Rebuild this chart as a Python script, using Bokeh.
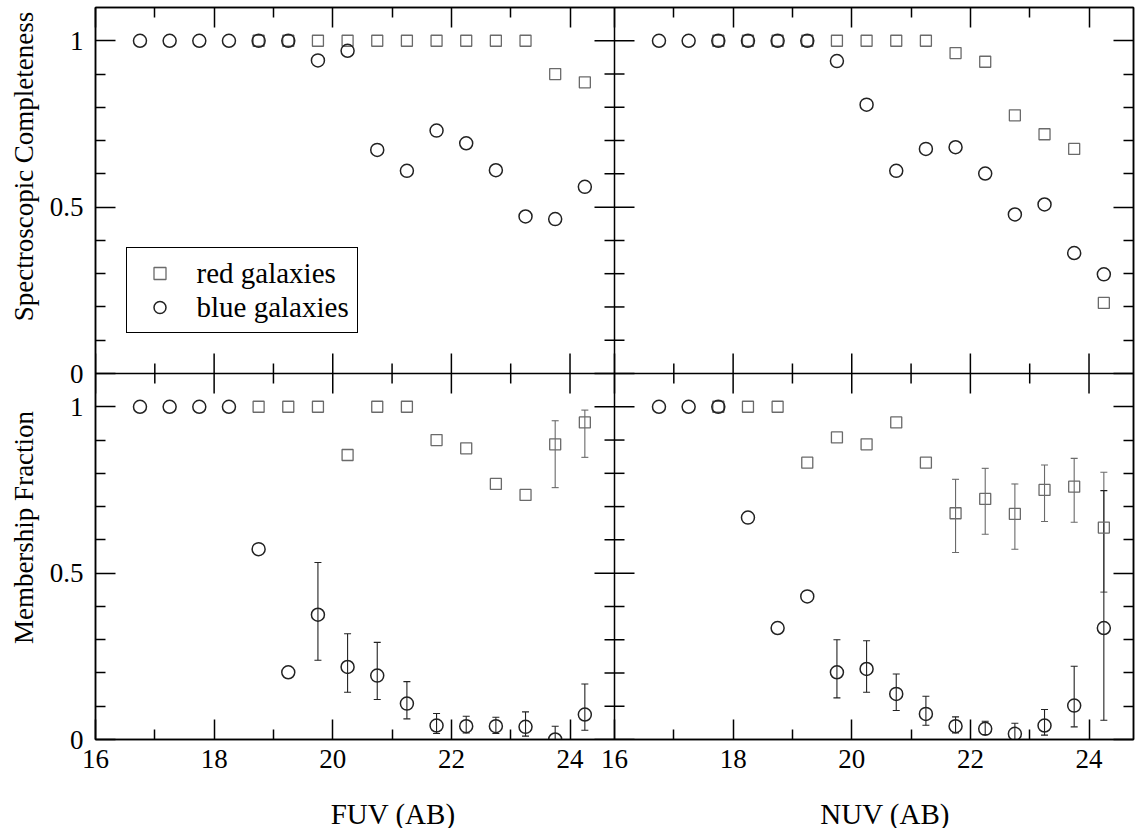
import math
from bokeh.plotting import figure
from bokeh.layouts import row, column
from bokeh.models import (Range1d, LinearAxis, FixedTicker, ColumnDataSource, Whisker, TeeHead,
                          Span, Label, Legend, LegendItem, CustomJSTickFormatter)
from bokeh.embed import file_html
from bokeh.resources import INLINE

# ---------------- data ----------------
mag_bins = [16.75, 17.25, 17.75, 18.25, 18.75, 19.25, 19.75, 20.25,
            20.75, 21.25, 21.75, 22.25, 22.75, 23.25, 23.75, 24.25]

# Spectroscopic completeness, FUV
fuv_comp_red = [None, None, None, None, 1.0, 1.0, 1.0, 1.0,
                1.0, 1.0, 1.0, 1.0, 1.0, 1.0, 0.90, 0.875]
fuv_comp_blue = [1.0, 1.0, 1.0, 1.0, 1.0, 1.0, 0.941, 0.970,
                 0.672, 0.609, 0.730, 0.692, 0.611, 0.472, 0.464, 0.561]

# Spectroscopic completeness, NUV
nuv_comp_red = [None, None, 1.0, 1.0, 1.0, 1.0, 1.0, 1.0,
                1.0, 1.0, 0.963, 0.937, 0.776, 0.719, 0.675, 0.212]
nuv_comp_blue = [1.0, 1.0, 1.0, 1.0, 1.0, 1.0, 0.939, 0.808,
                 0.609, 0.675, 0.680, 0.601, 0.478, 0.508, 0.362, 0.298]

# Membership fraction, FUV
fuv_memb_red = [None, None, None, None, 1.0, 1.0, 1.0, 0.855,
                1.0, 1.0, 0.90, 0.875, 0.768, 0.735, 0.887, 0.953]
fuv_memb_red_lo = [None] * 14 + [0.757, 0.848]
fuv_memb_red_hi = [None] * 14 + [0.958, 0.990]
fuv_memb_blue = [1.0, 1.0, 1.0, 1.0, 0.572, 0.202, 0.375, 0.218,
                 0.192, 0.108, 0.042, 0.040, 0.040, 0.038, 0.0, 0.075]
fuv_memb_blue_lo = [None] * 6 + [0.238, 0.142, 0.120, 0.062, 0.018, 0.020, 0.018, 0.010, 0.0, 0.028]
fuv_memb_blue_hi = [None] * 6 + [0.532, 0.318, 0.292, 0.174, 0.078, 0.070, 0.067, 0.083, 0.040, 0.167]

# Membership fraction, NUV
nuv_memb_red = [None, None, 1.0, 1.0, 1.0, 0.832, 0.908, 0.887,
                0.953, 0.832, 0.680, 0.723, 0.678, 0.750, 0.760, 0.637]
nuv_memb_red_lo = [None] * 10 + [0.562, 0.617, 0.572, 0.655, 0.653, 0.443]
nuv_memb_red_hi = [None] * 10 + [0.782, 0.815, 0.768, 0.825, 0.845, 0.803]
nuv_memb_blue = [1.0, 1.0, 1.0, 0.667, 0.335, 0.430, 0.202, 0.212,
                 0.137, 0.077, 0.040, 0.032, 0.017, 0.042, 0.102, 0.335]
nuv_memb_blue_lo = [None] * 6 + [0.125, 0.142, 0.087, 0.043, 0.020, 0.015, 0.0, 0.013, 0.038, 0.058]
nuv_memb_blue_hi = [None] * 6 + [0.300, 0.297, 0.197, 0.130, 0.068, 0.055, 0.049, 0.090, 0.220, 0.748]

x_major = [16, 18, 20, 22, 24]
x_minor = [17, 19, 21, 23]
y_major = [0, 0.5, 1]
y_minor = [0.1, 0.2, 0.3, 0.4, 0.6, 0.7, 0.8, 0.9]

x_titles = ["FUV (AB)", "NUV (AB)"]
y_titles = ["Spectroscopic Completeness", "Membership Fraction"]
legend_labels = ["red galaxies", "blue galaxies"]

# ---------------- layout of the 2x2 panel grid ----------------
X_LO, X_SPAN = 16.0, 8.75   # each panel shows 16 .. 24.75
Y_SPAN = 1.1                # each panel shows 0 .. 1.1
FONT = "Liberation Serif"

LEFT_W = 40                 # strip holding the y titles
MAIN_H = 789                # main figure height; below it a strip for x titles
W, H = 1135, 828

p = figure(frame_width=1038, frame_height=732,
           x_range=Range1d(X_LO, X_LO + 2 * X_SPAN),     # left panels
           y_range=Range1d(0, 2 * Y_SPAN),               # bottom panels
           min_border_left=95 - LEFT_W, min_border_right=2, min_border_top=7,
           min_border_bottom=MAIN_H - 739,
           output_backend="svg", toolbar_location=None)
p.extra_x_ranges = {"R": Range1d(X_LO - X_SPAN, X_LO + X_SPAN)}   # right panels
p.extra_y_ranges = {"T": Range1d(-Y_SPAN, Y_SPAN)}                # top panels
p.grid.visible = False
p.outline_line_color = "black"
p.outline_line_width = 1.5
p.background_fill_color = "white"
p.border_fill_color = "white"

xt_major = x_major + [round(t + X_SPAN, 6) for t in x_major]
xt_minor = x_minor + [round(t + X_SPAN, 6) for t in x_minor]
yt_major = y_major + [round(t + Y_SPAN, 6) for t in y_major]
yt_minor = y_minor + [round(t + Y_SPAN, 6) for t in y_minor]

xticker = FixedTicker(ticks=xt_major, minor_ticks=xt_minor)
yticker = FixedTicker(ticks=yt_major, minor_ticks=yt_minor)
xfmt = CustomJSTickFormatter(args=dict(w=X_SPAN, edge=X_LO + X_SPAN - 0.01),
                             code="const v = tick >= edge ? tick - w : tick; return String(Math.round(v));")
yfmt = CustomJSTickFormatter(args=dict(h=Y_SPAN, edge=Y_SPAN - 0.01),
                             code="const v = tick >= edge ? tick - h : tick; return String(Math.round(v*10)/10);")
blank = CustomJSTickFormatter(code="return '';")


def style_axis(ax, show_labels):
    ax.major_tick_in = 20
    ax.major_tick_out = 0
    ax.minor_tick_in = 10
    ax.minor_tick_out = 0
    ax.axis_line_color = "black"
    ax.axis_line_width = 1.5
    ax.major_tick_line_color = "black"
    ax.major_tick_line_width = 1.5
    ax.minor_tick_line_color = "black"
    ax.minor_tick_line_width = 1.5
    ax.major_label_text_font = FONT
    ax.major_label_text_color = "black"
    if show_labels:
        ax.major_label_text_font_size = "27px"
    else:
        ax.major_label_text_font_size = "0px"
        ax.major_label_standoff = 0


xb = p.xaxis[0]
xb.ticker = xticker
xb.formatter = xfmt
style_axis(xb, True)
xb.major_label_standoff = 10

yl = p.yaxis[0]
yl.ticker = yticker
yl.formatter = yfmt
style_axis(yl, True)
yl.major_label_standoff = 12

xa = LinearAxis(ticker=xticker, formatter=blank)
style_axis(xa, False)
p.add_layout(xa, "above")
yr = LinearAxis(ticker=yticker, formatter=blank)
style_axis(yr, False)
p.add_layout(yr, "right")

# inner dividers with ticks crossing both panels
p.add_layout(Span(location=X_LO + X_SPAN, dimension="height", line_color="black", line_width=1.5))
p.add_layout(Span(location=Y_SPAN, dimension="width", line_color="black", line_width=1.5))
p.scatter(x=xt_major, y=[Y_SPAN] * len(xt_major), marker="dash", size=40, angle=math.pi / 2,
          line_color="black", line_width=1.5)
p.scatter(x=xt_minor, y=[Y_SPAN] * len(xt_minor), marker="dash", size=20, angle=math.pi / 2,
          line_color="black", line_width=1.5)
p.scatter(x=[X_LO + X_SPAN] * len(yt_major), y=yt_major, marker="dash", size=40,
          line_color="black", line_width=1.5)
p.scatter(x=[X_LO + X_SPAN] * len(yt_minor), y=yt_minor, marker="dash", size=20,
          line_color="black", line_width=1.5)

RED_COL = "#6a6a6a"
BLUE_COL = "#222222"


def panel(xname, yname, red, blue, red_lo=None, red_hi=None, blue_lo=None, blue_hi=None):
    kw = {}
    if xname:
        kw["x_range_name"] = xname
    if yname:
        kw["y_range_name"] = yname
    out = []
    for vals, lo, hi, marker, size, col, lw in ((red, red_lo, red_hi, "square", 11, RED_COL, 1.3),
                                                (blue, blue_lo, blue_hi, "circle", 13, BLUE_COL, 1.5)):
        xs = [m for m, v in zip(mag_bins, vals) if v is not None]
        ys = [v for v in vals if v is not None]
        if lo is not None:
            ex = [m for m, l in zip(mag_bins, lo) if l is not None]
            el = [l for l in lo if l is not None]
            eh = [h for h in hi if h is not None]
            esrc = ColumnDataSource(dict(x=ex, lo=el, hi=eh))
            p.add_layout(Whisker(base="x", lower="lo", upper="hi", source=esrc, dimension="height",
                                 line_color=col, line_width=1.1,
                                 lower_head=TeeHead(size=7, line_color=col, line_width=1.1),
                                 upper_head=TeeHead(size=7, line_color=col, line_width=1.1), **kw))
        r = p.scatter(x=xs, y=ys, marker=marker, size=size, fill_color=None,
                      line_color=col, line_width=lw, **kw)
        out.append(r)
    return out


tl = panel(None, "T", fuv_comp_red, fuv_comp_blue)
panel("R", "T", nuv_comp_red, nuv_comp_blue)
panel(None, None, fuv_memb_red, fuv_memb_blue, fuv_memb_red_lo, fuv_memb_red_hi,
      fuv_memb_blue_lo, fuv_memb_blue_hi)
panel("R", None, nuv_memb_red, nuv_memb_blue, nuv_memb_red_lo, nuv_memb_red_hi,
      nuv_memb_blue_lo, nuv_memb_blue_hi)

legend = Legend(items=[LegendItem(label=legend_labels[0], renderers=[tl[0]]),
                       LegendItem(label=legend_labels[1], renderers=[tl[1]])],
                location=(30.5, 406), orientation="vertical",
                label_text_font=FONT, label_text_font_size="29px", label_text_color="black",
                glyph_width=49, glyph_height=30, label_height=34, label_standoff=13,
                padding=8, spacing=0, margin=0,
                border_line_color="black", border_line_width=1.5, border_line_alpha=1.0,
                background_fill_color="white", background_fill_alpha=1.0)
p.add_layout(legend)


def text_strip(width, height, x0, y0):
    """A bare figure whose frame fills it; coordinates are page pixels (y downward)."""
    f = figure(width=width, height=height,
               x_range=Range1d(x0, x0 + width), y_range=Range1d(y0 + height, y0),
               x_axis_location=None, y_axis_location=None,
               min_border=0, output_backend="svg", toolbar_location=None)
    f.grid.visible = False
    f.outline_line_color = None
    f.background_fill_color = "white"
    f.border_fill_color = "white"
    return f


# y titles (left strip)
left = text_strip(LEFT_W, H, 0, 0)
left.add_layout(Label(x=23, y=166, text=y_titles[0], angle=math.pi / 2,
                      text_align="center", text_baseline="middle",
                      text_font=FONT, text_font_size="27px", text_color="black"))
left.add_layout(Label(x=23, y=527, text=y_titles[1], angle=math.pi / 2,
                      text_align="center", text_baseline="middle",
                      text_font=FONT, text_font_size="27px", text_color="black"))

# x titles (bottom strip)
bottom = text_strip(W - LEFT_W, H - MAIN_H, LEFT_W, MAIN_H)
bottom.add_layout(Label(x=354, y=813, text=x_titles[0], text_align="center", text_baseline="middle",
                        text_font=FONT, text_font_size="29px", text_color="black"))
bottom.add_layout(Label(x=873, y=813, text=x_titles[1], text_align="center", text_baseline="middle",
                        text_font=FONT, text_font_size="29px", text_color="black"))

layout = row(left, column(p, bottom, spacing=0), spacing=0)
open("out.html", "w").write(file_html(layout, INLINE))
